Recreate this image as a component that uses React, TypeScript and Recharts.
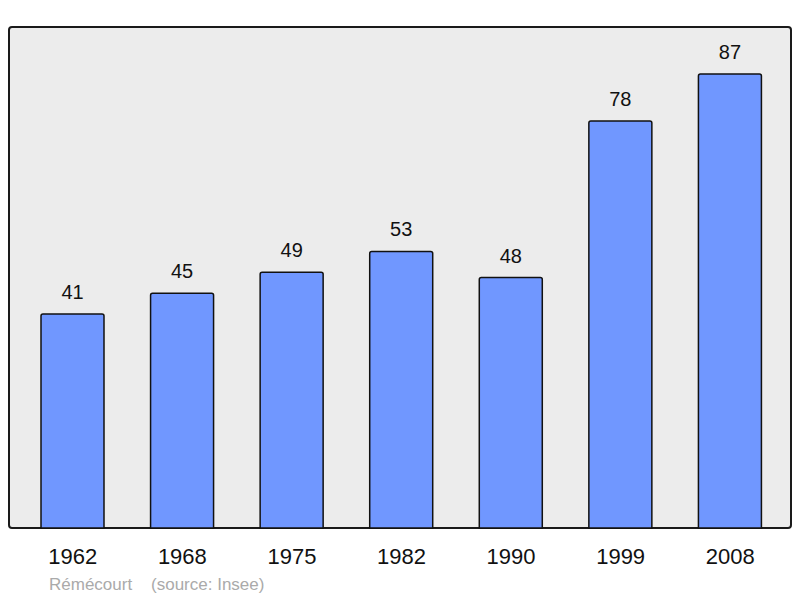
import { BarChart, Bar, XAxis, YAxis, LabelList, ReferenceArea } from "recharts";

const years = ["1962", "1968", "1975", "1982", "1990", "1999", "2008"];
const population = [41, 45, 49, 53, 48, 78, 87];
const yMax = 96;

const data = years.map((year, i) => ({ year, population: population[i] }));

// x padding of the category axis; the frame has to reach past it
const padLeft = 9;
const padRight = 6;

function YearTick(props: any) {
  const { x, y, payload } = props;
  return (
    <text x={x} y={y + 36} textAnchor="middle" fontSize={22} fill="#111">
      {payload.value}
    </text>
  );
}

function Frame(props: any) {
  const { x, y, width, height } = props;
  return (
    <rect
      x={x - padLeft}
      y={y}
      width={width + padLeft + padRight}
      height={height}
      rx={3}
      ry={3}
      fill="#ececec"
      stroke="#1a1a1a"
      strokeWidth={2}
    />
  );
}

export default function App() {
  return (
    <div style={{ position: "absolute", left: 0, top: 0, fontFamily: "'Liberation Sans', Arial, sans-serif" }}>
      <BarChart
        width={800}
        height={598}
        data={data}
        margin={{ top: 27, right: 9, bottom: 40, left: 9 }}
      >
        <ReferenceArea y1={0} y2={yMax} shape={<Frame />} ifOverflow="visible" />
        <XAxis
          dataKey="year"
          axisLine={false}
          tickLine={false}
          tickSize={0}
          tickMargin={0}
          height={30}
          padding={{ left: padLeft, right: padRight }}
          tick={<YearTick />}
          interval={0}
        />
        <YAxis hide domain={[0, yMax]} />
        <Bar
          dataKey="population"
          fill="#7097ff"
          stroke="#111"
          strokeWidth={1.5}
          radius={[2, 2, 0, 0]}
          barSize={63}
          isAnimationActive={false}
        >
          <LabelList dataKey="population" position="top" offset={15} fontSize={20} fill="#111" />
        </Bar>
        <text x={49} y={590} fontSize={17} fill="#aaaaaa">
          Rémécourt{"\u00a0\u00a0\u00a0\u00a0"}(source: Insee)
        </text>
      </BarChart>
    </div>
  );
}
